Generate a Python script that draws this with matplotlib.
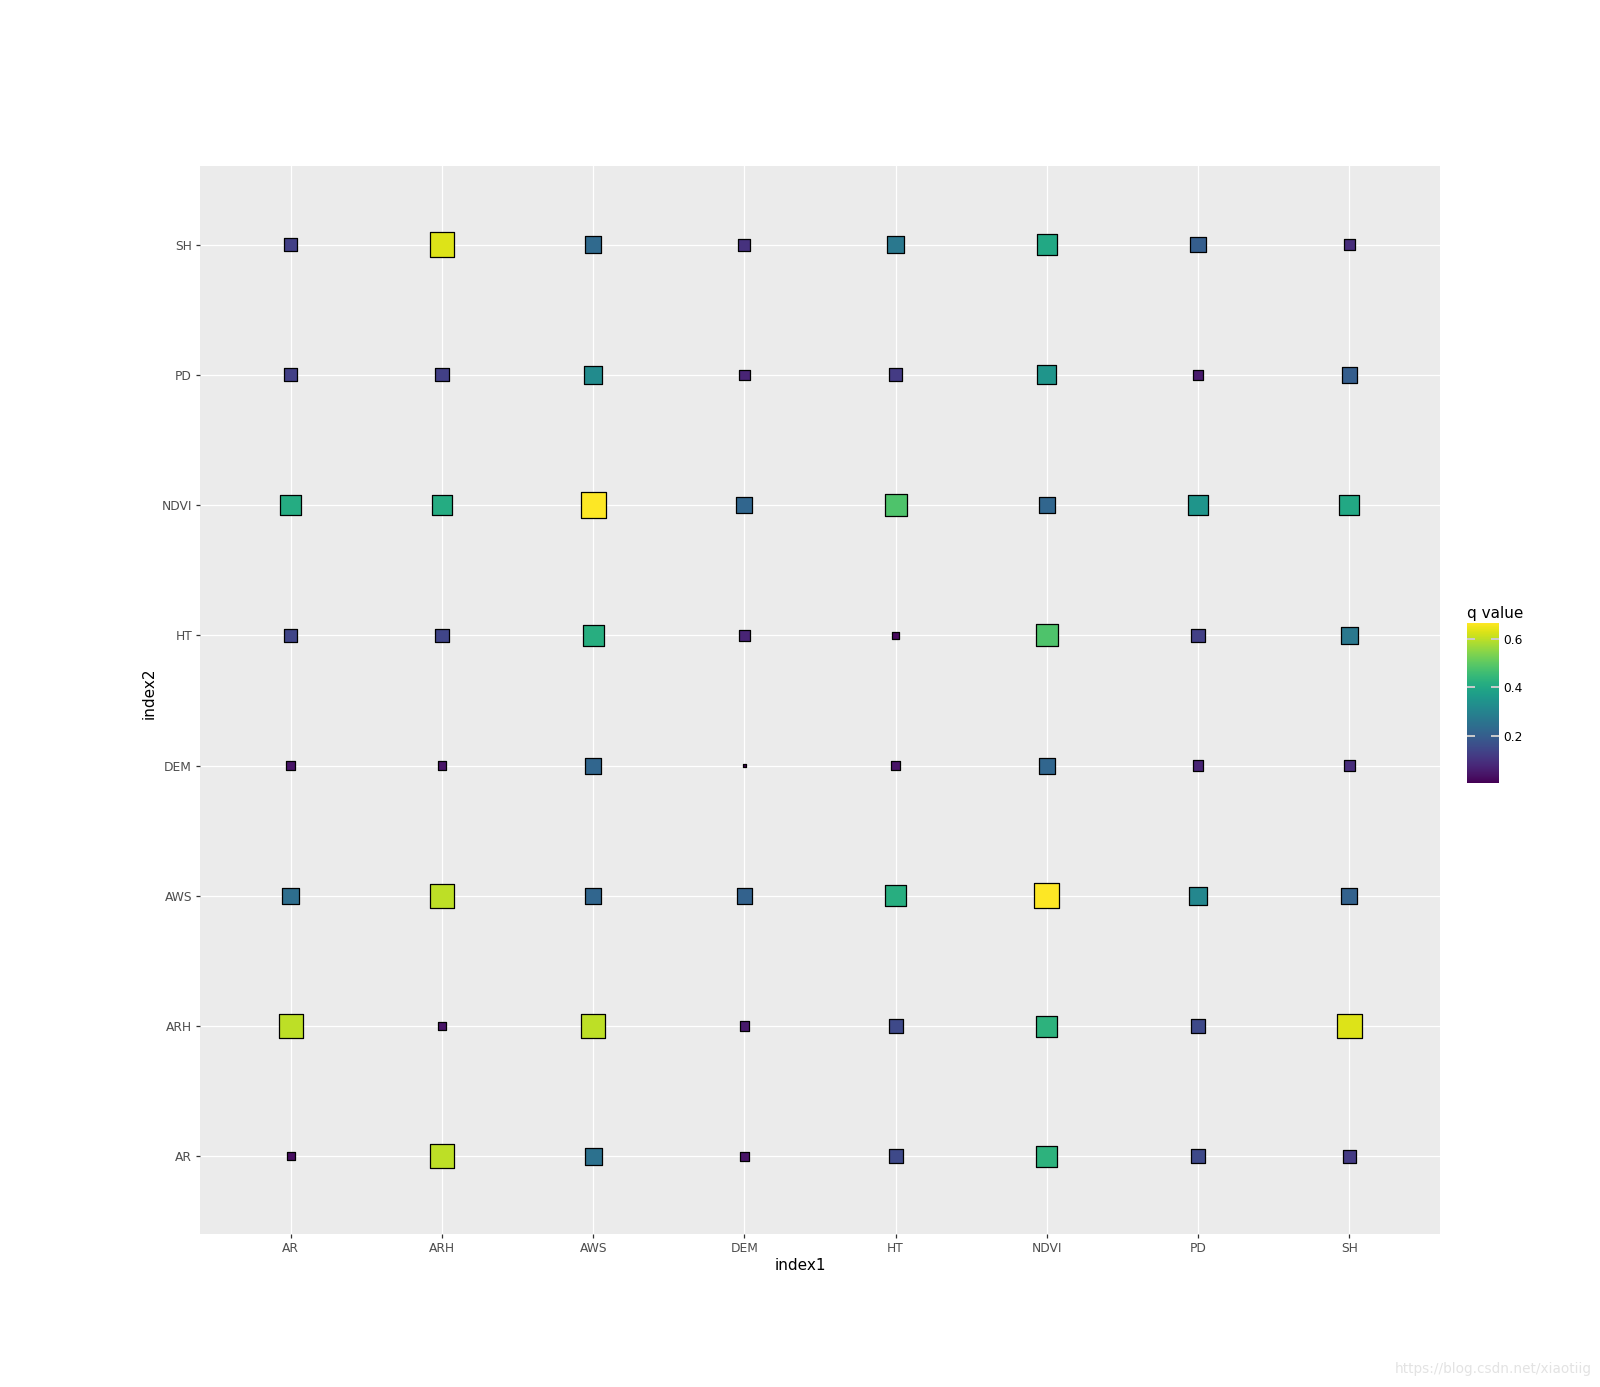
import numpy as np
import matplotlib
matplotlib.use("Agg")
import matplotlib.pyplot as plt
from matplotlib import cm, colors

# ---------------- data ----------------
index1 = ["AR", "ARH", "AWS", "DEM", "HT", "NDVI", "PD", "SH"]
index2 = ["AR", "ARH", "AWS", "DEM", "HT", "NDVI", "PD", "SH"]

# q values, one list per index2 row, ordered by index1
q_AR   = [0.03, 0.60, 0.25, 0.04, 0.15, 0.43, 0.15, 0.12]
q_ARH  = [0.60, 0.04, 0.60, 0.05, 0.15, 0.43, 0.15, 0.63]
q_AWS  = [0.24, 0.60, 0.22, 0.21, 0.42, 0.665, 0.31, 0.21]
q_DEM  = [0.04, 0.04, 0.22, 0.005, 0.04, 0.22, 0.07, 0.09]
q_HT   = [0.14, 0.14, 0.42, 0.07, 0.02, 0.48, 0.13, 0.27]
q_NDVI = [0.41, 0.41, 0.665, 0.22, 0.48, 0.22, 0.35, 0.40]
q_PD   = [0.13, 0.13, 0.32, 0.07, 0.12, 0.35, 0.05, 0.20]
q_SH   = [0.13, 0.63, 0.23, 0.10, 0.27, 0.40, 0.20, 0.09]

rows = [q_AR, q_ARH, q_AWS, q_DEM, q_HT, q_NDVI, q_PD, q_SH]

# ---------------- figure ----------------
W, H, DPI = 1600, 1387, 100
fig = plt.figure(figsize=(W / DPI, H / DPI), dpi=DPI)
ax = fig.add_axes([0.125, 0.11, 0.775, 0.77])
ax.set_facecolor("#ebebeb")

xs, ys, vals = [], [], []
for j, row in enumerate(rows):
    for i, v in enumerate(row):
        xs.append(i)
        ys.append(j)
        vals.append(v)
xs = np.array(xs); ys = np.array(ys); vals = np.array(vals)

vmin, vmax = vals.min(), vals.max()
norm = colors.Normalize(vmin=vmin, vmax=vmax)
cmap = matplotlib.colormaps["viridis"]

# size scale (area-like): outer side in pixels
lw = 0.9
side_px = 5 + 21.5 * np.sqrt((vals - vmin) / (vmax - vmin))
side_pt = side_px * 72 / DPI - lw
sizes = np.clip(side_pt, 0.5, None) ** 2

ax.scatter(xs, ys, s=sizes, c=vals, cmap=cmap, norm=norm, marker="s",
           edgecolors="black", linewidths=lw, zorder=3)

ax.set_xlim(-0.6, len(index1) - 1 + 0.6)
ax.set_ylim(-0.6, len(index2) - 1 + 0.6)
ax.set_xticks(range(len(index1)))
ax.set_xticklabels(index1)
ax.set_yticks(range(len(index2)))
ax.set_yticklabels(index2)
ax.grid(True, color="white", linewidth=0.9, zorder=1)
ax.set_axisbelow(True)
for sp in ax.spines.values():
    sp.set_visible(False)
ax.tick_params(axis="both", length=3.2, width=0.9, color="#333333",
               labelcolor="#4d4d4d", labelsize=8.8)
ax.tick_params(axis="x", pad=2.5)
ax.tick_params(axis="y", pad=2.5)

# axis titles centred on the figure (ggplot / plotnine style)
fig.text(0.5, 1 - 1266 / H, "index1", fontsize=11, ha="center", va="center")
fig.text(149 / W, 0.5, "index2", fontsize=11, ha="center", va="center",
         rotation=90)

# ---------------- colourbar ----------------
cax = fig.add_axes([1466.7 / W, 1 - 783 / H, 32.6 / W, 160 / H])
sm = cm.ScalarMappable(norm=norm, cmap=cmap)
cb = fig.colorbar(sm, cax=cax, ticks=[0.2, 0.4, 0.6])
cb.outline.set_visible(False)
cb.ax.set_yticklabels(["0.2", "0.4", "0.6"])
cb.ax.tick_params(direction="in", length=5.5, width=1.4, color="#cccccc",
                  left=True, right=True, labelsize=8.8, pad=3)
cax.text(0.0, 1.012, "q value", transform=cax.transAxes, fontsize=11,
         ha="left", va="bottom")

# watermark
fig.text(1592 / W, 1 - 1369 / H, "https://blog.csdn.net/xiaotiig",
         ha="right", va="center", fontsize=9.8, color="#e3e3e3")

fig.savefig("out.png", dpi=DPI)
